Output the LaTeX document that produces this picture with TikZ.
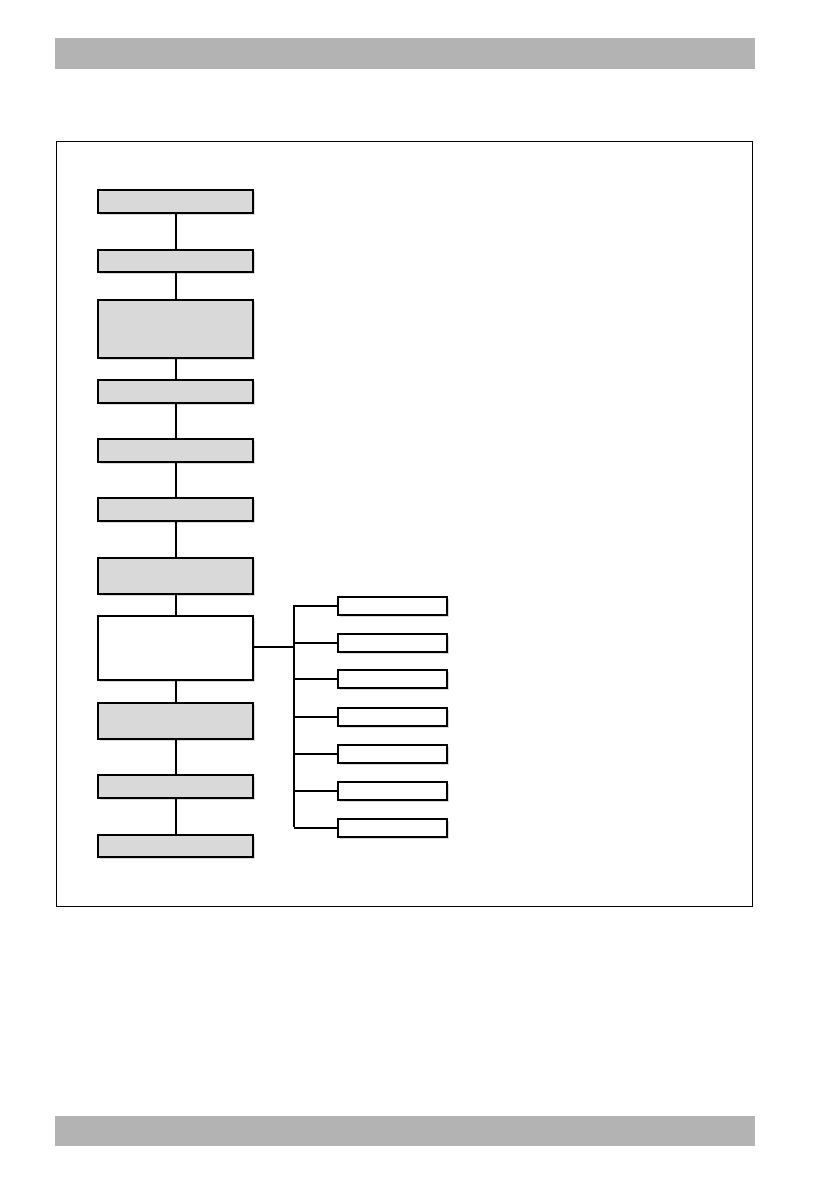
\documentclass[tikz,border=0pt]{standalone}
\usetikzlibrary{shadows}
\definecolor{barg}{HTML}{B3B3B3}
\definecolor{boxg}{HTML}{D9D9D9}
\begin{document}
\begin{tikzpicture}[x=1pt,y=-1pt,
  shad/.style={drop shadow={shadow xshift=1.5pt,shadow yshift=-2pt,opacity=0.25,fill=black!60}},
  lbox/.style={draw=black,line width=2pt,fill=boxg,minimum width=155pt,inner sep=0pt,anchor=north west,shad},
  wbox/.style={draw=black,line width=2pt,fill=white,minimum width=155pt,inner sep=0pt,anchor=north west,shad},
  rbox/.style={draw=black,line width=2pt,fill=white,minimum width=109pt,minimum height=18pt,inner sep=0pt,anchor=north west,shad},
  conn/.style={draw=black,line width=2pt},
  bus/.style={draw=black,line width=1.5pt}]
\useasboundingbox[fill=white] (0,0) rectangle (838,1190);
% header and footer bars
\fill[barg] (55,38) rectangle (755,69);
\fill[barg] (55,1116) rectangle (755,1146);
% frame
\draw[line width=1pt] (56,142) rectangle (752,906);
% left chain
\node[lbox,minimum height=23pt] (b1) at (97,189) {};
\node[lbox,minimum height=22pt] (b2) at (97,249) {};
\node[lbox,minimum height=58pt] (b3) at (97,299) {};
\node[lbox,minimum height=23pt] (b4) at (97,379) {};
\node[lbox,minimum height=23pt] (b5) at (97,438) {};
\node[lbox,minimum height=23pt] (b6) at (97,497) {};
\node[lbox,minimum height=36pt] (b7) at (97,557) {};
\node[wbox,minimum height=64pt] (b8) at (97,615) {};
\node[lbox,minimum height=36pt] (b9) at (97,702) {};
\node[lbox,minimum height=23pt] (b10) at (97,774) {};
\node[lbox,minimum height=22pt] (b11) at (97,834) {};
\foreach \a/\b in {b1/b2,b2/b3,b3/b4,b4/b5,b5/b6,b6/b7,b7/b8,b8/b9,b9/b10,b10/b11}
  \draw[conn] (\a.south) -- (\b.north);
% right branch
\node[rbox] (r1) at (337,596) {};
\node[rbox] (r2) at (337,633) {};
\node[rbox] (r3) at (337,669) {};
\node[rbox] (r4) at (337,707) {};
\node[rbox] (r5) at (337,744) {};
\node[rbox] (r6) at (337,781) {};
\node[rbox] (r7) at (337,818) {};
\coordinate (bt) at (294,605);
\coordinate (bb) at (294,827);
\coordinate (bj) at (294,647);
\draw[bus] (bt) -- (bb);
\draw[conn] (b8.east |- bj) -- (bj);
\foreach \r in {r1,r2,r3,r4,r5,r6,r7}
  \draw[bus] (\r.west) -- (bt |- \r.west);
\end{tikzpicture}
\end{document}
